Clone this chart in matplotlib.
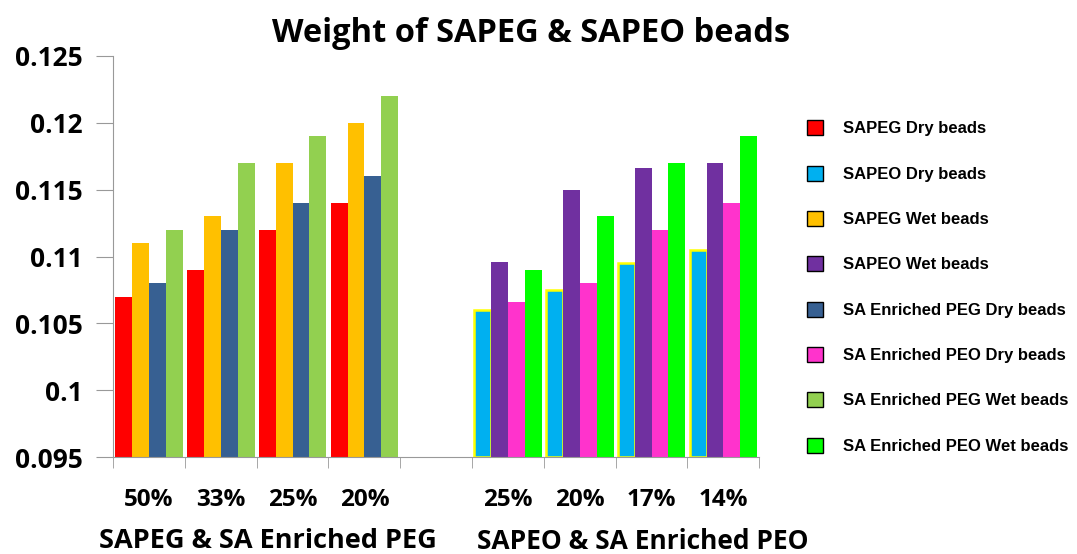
import numpy as np
import matplotlib.pyplot as plt
from matplotlib.patches import Patch

# categories (left group, right group)
peg_cats = ['50%', '33%', '25%', '20%']
peo_cats = ['25%', '20%', '17%', '14%']

# weights
sapeg_dry = [0.107, 0.109, 0.112, 0.114]
sapeg_wet = [0.111, 0.113, 0.117, 0.120]
sapeg_en_dry = [0.108, 0.112, 0.114, 0.116]
sapeg_en_wet = [0.112, 0.117, 0.119, 0.122]

sapeo_dry = [0.106, 0.1075, 0.1095, 0.1105]
sapeo_wet = [0.1096, 0.115, 0.1166, 0.117]
sapeo_en_dry = [0.1066, 0.108, 0.112, 0.114]
sapeo_en_wet = [0.109, 0.113, 0.117, 0.119]

fig = plt.figure(figsize=(10.77, 5.54), dpi=100)
ax = fig.add_axes([0.105, 0.175, 0.600, 0.724])

w = 0.235
offs = np.array([-1.5, -0.5, 0.5, 1.5]) * w
xl = np.arange(4)
xr = np.arange(5, 9)

left = [(sapeg_dry, '#ff0000', 'SAPEG Dry beads'),
        (sapeg_wet, '#ffc000', 'SAPEG Wet beads'),
        (sapeg_en_dry, '#376092', 'SA Enriched PEG Dry beads'),
        (sapeg_en_wet, '#92d050', 'SA Enriched PEG Wet beads')]
right = [(sapeo_dry, '#00b0f0', 'SAPEO Dry beads'),
         (sapeo_wet, '#7030a0', 'SAPEO Wet beads'),
         (sapeo_en_dry, '#ff33cc', 'SA Enriched PEO Dry beads'),
         (sapeo_en_wet, '#00ff00', 'SA Enriched PEO Wet beads')]

base = 0.095
for i, (vals, col, lab) in enumerate(left):
    ax.bar(xl + offs[i], np.array(vals) - base, w, bottom=base, color=col, zorder=2)
for i, (vals, col, lab) in enumerate(right):
    if i == 0:
        ax.bar(xr + offs[i], np.array(vals) - base, w, bottom=base, color=col,
               edgecolor='#ffff00', linewidth=1.8, zorder=2)
    else:
        ax.bar(xr + offs[i], np.array(vals) - base, w, bottom=base, color=col, zorder=2)

ax.set_xlim(-0.5, 8.5)
ax.set_ylim(0.095, 0.125)
ax.set_yticks([0.095, 0.1, 0.105, 0.11, 0.115, 0.12, 0.125])
ax.set_yticklabels(['0.095', '0.1', '0.105', '0.11', '0.115', '0.12', '0.125'],
                   fontsize=19, fontweight='bold', family='Open Sans')

ax.set_xticks(list(xl) + list(xr))
ax.set_xticklabels(peg_cats + peo_cats, fontsize=17.5, fontweight='bold', family='Open Sans')
ax.set_xticks(np.arange(-0.5, 9, 1.0), minor=True)
ax.tick_params(axis='x', which='major', length=0, pad=22)
ax.tick_params(axis='x', which='minor', length=8, color='#999999')
ax.tick_params(axis='y', length=12, color='#999999', pad=10)

for s in ['top', 'right']:
    ax.spines[s].set_visible(False)
for s in ['left', 'bottom']:
    ax.spines[s].set_color('#999999')

fig.text(0.493, 0.94, 'Weight of SAPEG & SAPEO beads', ha='center', va='center',
         fontsize=23.5, fontweight='bold', family='Open Sans')
fig.text(0.249, 0.023, 'SAPEG & SA Enriched PEG', ha='center', va='center',
         fontsize=19.5, fontweight='bold', family='Open Sans')
fig.text(0.597, 0.023, 'SAPEO & SA Enriched PEO', ha='center', va='center',
         fontsize=19, fontweight='bold', family='Open Sans')

order = [left[0], right[0], left[1], right[1], left[2], right[2], left[3], right[3]]
handles = [Patch(facecolor=c, edgecolor='black', linewidth=1.0) for _, c, _ in order]
labels = [l for _, _, l in order]
fig.legend(handles, labels, loc='upper left', bbox_to_anchor=(0.735, 0.81),
           frameon=False, prop={'family': 'Liberation Sans', 'size': 12, 'weight': 'bold'},
           handlelength=1.0, handleheight=1.0, handletextpad=1.2, labelspacing=1.75)

fig.savefig('out.png', dpi=100)
